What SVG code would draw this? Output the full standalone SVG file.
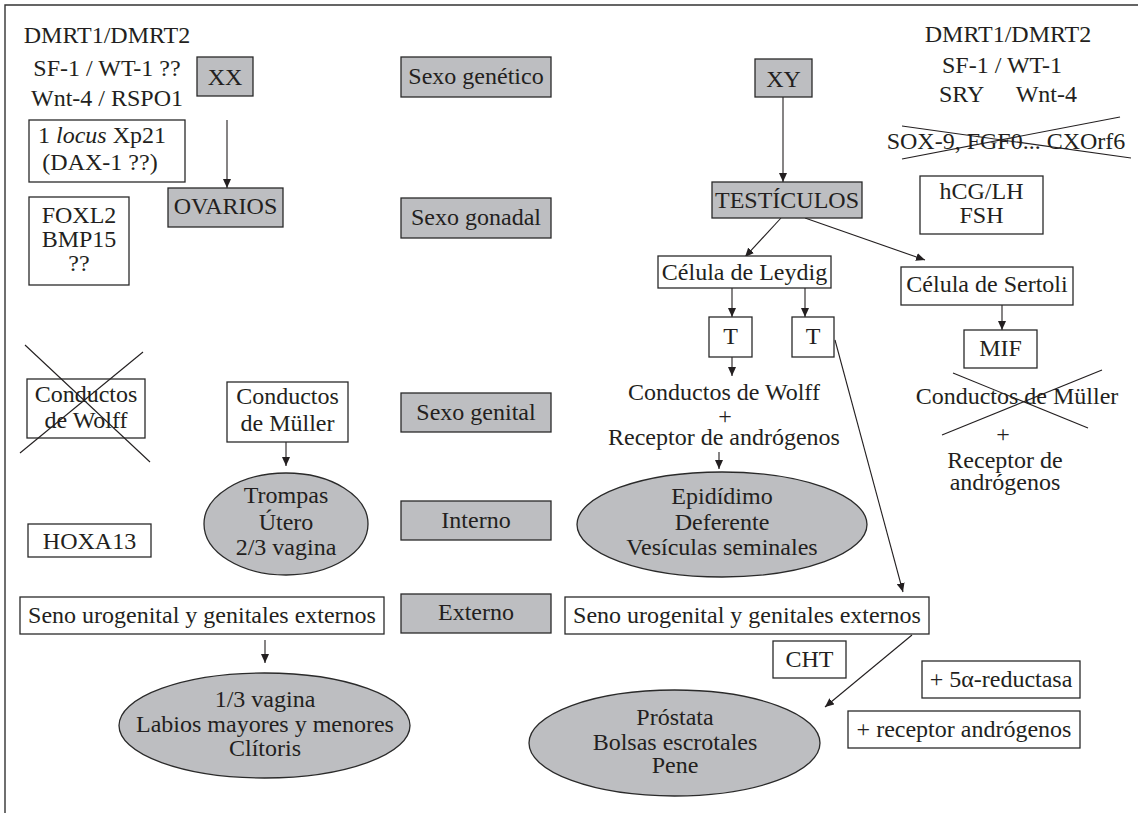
<svg xmlns="http://www.w3.org/2000/svg" width="1138" height="813" viewBox="0 0 1138 813">
<style>
text{font-family:"Liberation Serif","Times New Roman",serif;font-size:24px;fill:#231f20;text-anchor:middle}
.g{fill:#bdbec1;stroke:#2a2a2a;stroke-width:1.3}
.w{fill:#fff;stroke:#2a2a2a;stroke-width:1.3}
.l{stroke:#231f20;stroke-width:1.1;fill:none}
.a{stroke:#231f20;stroke-width:1.1;fill:none;marker-end:url(#ah)}
</style>
<defs>
<marker id="ah" markerUnits="userSpaceOnUse" markerWidth="9" markerHeight="8" refX="9" refY="4" orient="auto">
<path d="M0,0 L9,4 L0,8 z" fill="#231f20"/>
</marker>
</defs>
<rect width="1138" height="813" fill="#fff"/>
<g id="frame"><path d="M5,813 L5,5 L1138,5" fill="none" stroke="#333" stroke-width="1.4"/></g>

<g id="connectors">
<line class="a" x1="227" y1="120" x2="227" y2="188"/>
<line class="a" x1="783" y1="97" x2="783" y2="182"/>
<line class="a" x1="781" y1="218" x2="745" y2="257"/>
<line class="a" x1="805" y1="218" x2="925" y2="260"/>
<line class="a" x1="732" y1="288" x2="732" y2="317"/>
<line class="a" x1="805" y1="288" x2="805" y2="317"/>
<line class="a" x1="732" y1="357" x2="732" y2="376"/>
<line class="a" x1="719" y1="452" x2="719" y2="469"/>
<line class="a" x1="835" y1="340" x2="903" y2="592"/>
<line class="a" x1="1002" y1="305" x2="1002" y2="330"/>
<line class="a" x1="286" y1="442" x2="286" y2="466"/>
<line class="a" x1="265" y1="640" x2="265" y2="663"/>
<line class="a" x1="912" y1="635" x2="825" y2="707"/>
</g>

<g id="left-genes">
<text x="107" y="43">DMRT1/DMRT2</text>
<text x="107" y="76">SF-1 / WT-1 ??</text>
<text x="107" y="106">Wnt-4 / RSPO1</text>
</g>
<g id="xx"><rect class="g" x="197" y="57" width="56" height="39"/><text x="225" y="85">XX</text></g>
<g id="locus"><rect class="w" x="29" y="120" width="156" height="62"/><text x="102" y="143">1 <tspan font-style="italic">locus</tspan> Xp21</text><text x="100" y="170">(DAX-1 ??)</text></g>
<g id="foxl2"><rect class="w" x="29" y="197" width="100" height="88"/><text x="79" y="223">FOXL2</text><text x="79" y="247">BMP15</text><text x="79" y="271">??</text></g>
<g id="ovarios"><rect class="g" x="168" y="188" width="115" height="39"/><text x="225.5" y="214">OVARIOS</text></g>

<g id="sexo-genetico"><rect class="g" x="401" y="57" width="150" height="40"/><text x="476" y="84">Sexo genético</text></g>
<g id="sexo-gonadal"><rect class="g" x="401" y="198" width="150" height="40"/><text x="476" y="225">Sexo gonadal</text></g>
<g id="sexo-genital"><rect class="g" x="401" y="393" width="150" height="39"/><text x="476" y="420">Sexo genital</text></g>
<g id="interno"><rect class="g" x="401" y="501" width="150" height="39"/><text x="476" y="528">Interno</text></g>
<g id="externo"><rect class="g" x="401" y="594" width="150" height="39"/><text x="476" y="620">Externo</text></g>

<g id="xy"><rect class="g" x="755" y="59" width="57" height="38"/><text x="783.5" y="87">XY</text></g>
<g id="testiculos"><rect class="g" x="712" y="182" width="150" height="36"/><text x="787" y="208">TESTÍCULOS</text></g>
<g id="right-genes">
<text x="1008" y="42">DMRT1/DMRT2</text>
<text x="1002" y="73">SF-1 / WT-1</text>
<text x="939" y="102" style="text-anchor:start">SRY</text>
<text x="1077" y="102" style="text-anchor:end">Wnt-4</text>
</g>
<g id="sox9"><text x="1006" y="149">SOX-9, FGF0... CXOrf6</text>
<line class="l" x1="902" y1="126" x2="1131" y2="158"/><line class="l" x1="902" y1="159" x2="1120" y2="117"/></g>
<g id="hcg"><rect class="w" x="920" y="176" width="123" height="58"/><text x="981.5" y="199">hCG/LH</text><text x="981.5" y="223">FSH</text></g>
<g id="leydig"><rect class="w" x="658" y="256" width="173" height="32"/><text x="744.5" y="280">Célula de Leydig</text></g>
<g id="sertoli"><rect class="w" x="901" y="267" width="172" height="38"/><text x="987" y="292">Célula de Sertoli</text></g>
<g id="t1"><rect class="w" x="709" y="317" width="43" height="40"/><text x="730.5" y="344">T</text></g>
<g id="t2"><rect class="w" x="792" y="317" width="42" height="40"/><text x="813" y="344">T</text></g>
<g id="wolff-male"><text x="724" y="400">Conductos de Wolff</text><text x="725" y="424">+</text><text x="724" y="445">Receptor de andrógenos</text></g>
<g id="epididimo"><ellipse class="g" cx="722" cy="524.5" rx="145" ry="52.5"/><text x="722" y="504">Epidídimo</text><text x="722" y="530">Deferente</text><text x="722" y="555">Vesículas seminales</text></g>
<g id="mif"><rect class="w" x="964" y="330" width="73" height="38"/><text x="1000.5" y="356">MIF</text></g>
<g id="muller-male"><text x="1017" y="404">Conductos de Müller</text>
<line class="l" x1="953" y1="373" x2="1088" y2="428"/><line class="l" x1="942" y1="435" x2="1102" y2="370"/>
<text x="1003" y="442">+</text><text x="1005" y="468">Receptor de</text><text x="1005" y="490">andrógenos</text></g>

<g id="wolff-female"><rect class="w" x="27" y="379" width="118" height="59"/><text x="86" y="402">Conductos</text><text x="86" y="428">de Wolff</text>
<line class="l" x1="25" y1="345" x2="150" y2="462"/><line class="l" x1="143" y1="352" x2="20" y2="453"/></g>
<g id="muller-female"><rect class="w" x="227" y="382" width="121" height="60"/><text x="287.5" y="404">Conductos</text><text x="287.5" y="431">de Müller</text></g>
<g id="trompas"><ellipse class="g" cx="286" cy="524" rx="82" ry="51"/><text x="286" y="503">Trompas</text><text x="286" y="530">Útero</text><text x="286" y="555">2/3 vagina</text></g>
<g id="hoxa13"><rect class="w" x="28" y="524" width="123" height="33"/><text x="89.5" y="549">HOXA13</text></g>

<g id="seno-f"><rect class="w" x="20" y="597" width="364" height="37"/><text x="202" y="623">Seno urogenital y genitales externos</text></g>
<g id="externos-f"><ellipse class="g" cx="264.5" cy="725.5" rx="145.5" ry="52.5"/><text x="265" y="707">1/3 vagina</text><text x="265" y="732">Labios mayores y menores</text><text x="265" y="756">Clítoris</text></g>
<g id="seno-m"><rect class="w" x="565" y="597" width="364" height="37"/><text x="747" y="623">Seno urogenital y genitales externos</text></g>
<g id="cht"><rect class="w" x="773" y="641" width="73" height="37"/><text x="809.5" y="667">CHT</text></g>
<g id="externos-m"><ellipse class="g" cx="674.5" cy="743" rx="145.5" ry="53"/><text x="675" y="725">Próstata</text><text x="675" y="750">Bolsas escrotales</text><text x="675" y="773">Pene</text></g>
<g id="reductasa"><rect class="w" x="922" y="661" width="158" height="37"/><text x="1001" y="687">+ 5α-reductasa</text></g>
<g id="receptor"><rect class="w" x="848" y="711" width="232" height="37"/><text x="964" y="737">+ receptor andrógenos</text></g>
</svg>
